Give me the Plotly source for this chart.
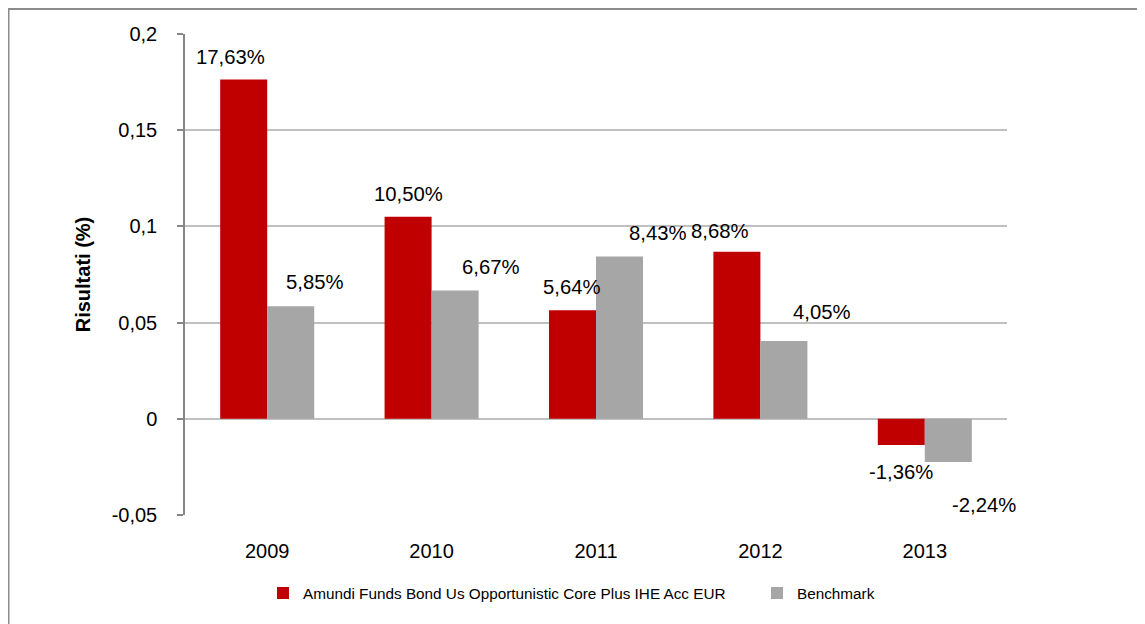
import plotly.graph_objects as go

years = ["2009", "2010", "2011", "2012", "2013"]
fund_name = "Amundi Funds Bond Us Opportunistic Core Plus IHE Acc EUR"
bench_name = "Benchmark"
fund_values = [0.1763, 0.1050, 0.0564, 0.0868, -0.0136]
bench_values = [0.0585, 0.0667, 0.0843, 0.0405, -0.0224]
y_tickvals = [-0.05, 0, 0.05, 0.1, 0.15, 0.2]
y_ticktext = ["-0,05", "0", "0,05", "0,1", "0,15", "0,2"]

# label placement offsets (px) relative to bar centre / bar end
fund_lbl_dx = [-13.5, 0, 0, -17, 0]
fund_lbl_dy = [23, 23, 23, 21, -27]
bench_lbl_dx = [24, 36, 38, 38, 36]
bench_lbl_dy = [24, 23, 24, 29, -43]

FONT = "Liberation Sans, Arial, sans-serif"
RED = "#C00000"
GREY = "#A6A6A6"

ML, MR, MT, MB = 177, 146, 26, 117
W, H = 1145, 624
PLOT_W = W - ML - MR
PLOT_H = H - MT - MB
BARGAP = 0.428


def fmt(v):
    return f"{v * 100:.2f}".replace(".", ",") + "%"


fig = go.Figure()
fig.add_trace(go.Bar(x=years, y=fund_values, name=fund_name, marker_color=RED,
                     marker_line_width=0, hoverinfo="skip", legend="legend"))
fig.add_trace(go.Bar(x=years, y=bench_values, name=bench_name, marker_color=GREY,
                     marker_line_width=0, hoverinfo="skip", legend="legend2"))

bar_half = PLOT_W / len(years) * (1 - BARGAP) / 4

annotations = []
for vals, dxs, dys, side in ((fund_values, fund_lbl_dx, fund_lbl_dy, -1),
                             (bench_values, bench_lbl_dx, bench_lbl_dy, 1)):
    for i, (v, dx, dy) in enumerate(zip(vals, dxs, dys)):
        annotations.append(dict(x=i, y=v, xref="x", yref="y", text=fmt(v),
                                showarrow=False, xanchor="center", yanchor="middle",
                                xshift=side * bar_half + dx, yshift=dy,
                                font=dict(family=FONT, size=20.3, color="black")))

legend_y = (PLOT_H + MT - 585) / PLOT_H
legend_common = dict(orientation="h", xanchor="left", y=legend_y, yanchor="middle",
                     font=dict(family=FONT, size=15.3, color="black"),
                     itemclick=False, itemdoubleclick=False,
                     bgcolor="rgba(0,0,0,0)")

fig.update_layout(
    width=W, height=H,
    margin=dict(l=ML, r=MR, t=MT, b=MB, autoexpand=False),
    paper_bgcolor="white", plot_bgcolor="white",
    barmode="group", bargap=BARGAP, bargroupgap=0,
    font=dict(family=FONT, size=20, color="black"),
    annotations=annotations,
    showlegend=True,
    legend=dict(x=(255 - ML) / PLOT_W, **legend_common),
    legend2=dict(x=(749 - ML) / PLOT_W, **legend_common),
    xaxis=dict(type="category", categoryorder="array", categoryarray=years,
               range=[-0.5, len(years) - 0.5],
               showline=False, showgrid=False, ticks="", zeroline=False,
               ticklabelstandoff=22, tickfont=dict(family=FONT, size=20)),
    xaxis2=dict(overlaying="x", anchor="free", position=0.2, side="bottom",
                range=[-0.5, len(years) - 0.5],
                tickvals=[i - 0.5 for i in range(len(years) + 1)],
                showticklabels=False, ticks="outside", ticklen=6, tickwidth=1.5,
                tickcolor="#868686", showline=True, linecolor="#868686", linewidth=1.5,
                showgrid=False, zeroline=False),
    yaxis=dict(range=[-0.05, 0.2], tickvals=y_tickvals, ticktext=y_ticktext,
               showgrid=True, gridcolor="#C0C0C0", gridwidth=1.8,
               zeroline=False, showline=True, linecolor="#868686", linewidth=1.5,
               ticks="outside", ticklen=6, tickwidth=1.5, tickcolor="#868686",
               ticklabelstandoff=16, tickfont=dict(family=FONT, size=20),
               title=dict(text="<b>Risultati (%)</b>", standoff=16,
                          font=dict(family=FONT, size=20))),
    shapes=[dict(type="rect", xref="paper", yref="paper",
                 x0=(0.5 - ML) / PLOT_W, x1=(W + 20 - ML) / PLOT_W,
                 y0=(PLOT_H + MT - H - 20) / PLOT_H, y1=(PLOT_H + MT - 1) / PLOT_H,
                 line=dict(color="#8C8C8C", width=2), fillcolor="rgba(0,0,0,0)",
                 layer="above")],
)

fig.write_html("out.html")
